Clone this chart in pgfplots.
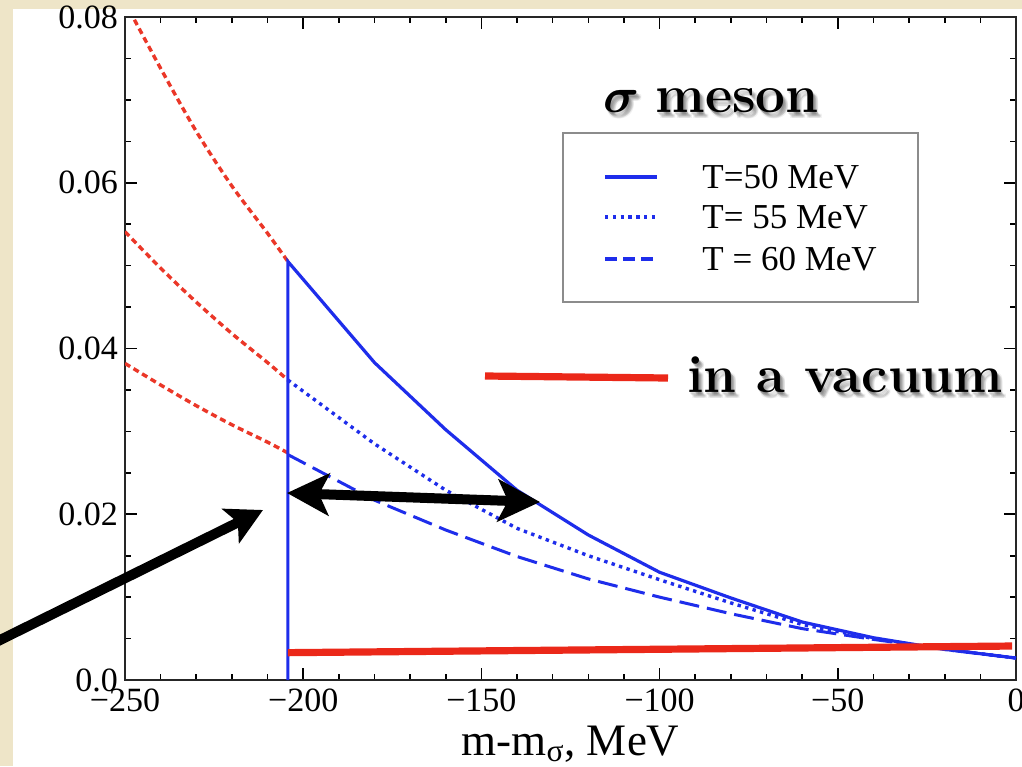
\documentclass[border=0pt]{standalone}
\usepackage{fontspec}
\usepackage{bm}
\usepackage{pgfplots}
\pgfplotsset{compat=1.18}
\usetikzlibrary{arrows.meta}
\newfontfamily\tnr{Liberation Serif}
\definecolor{bg}{RGB}{238,229,200}
\definecolor{pblue}{RGB}{30,45,235}
\definecolor{pred}{RGB}{235,40,25}
\definecolor{dred}{RGB}{235,55,40}
\newcommand{\shadowtext}[3]{%
  \foreach \dx/\dy/\op in {1/2/0.10,2/3/0.10,3/4/0.09,4/5/0.08,5/6/0.06,3/6/0.06,5/4/0.06}{%
    \node[anchor=base west, inner sep=0pt, text=black, opacity=\op] at (#1+\dx,#2+\dy) {#3};}%
  \node[anchor=base west, inner sep=0pt] at (#1,#2) {#3};}
\begin{document}
\begin{tikzpicture}[x=0.5pt,y=-0.5pt]
\useasboundingbox (0,0) rectangle (1022,766);
\fill[bg] (0,0) rectangle (1022,766);
\fill[white] (13,9) rectangle (1022,766);
\begin{axis}[
  at={(62.5pt,-340pt)}, anchor=south west,
  scale only axis, width=445.5pt, height=331.5pt,
  xmin=-250, xmax=0, ymin=0, ymax=0.08,
  scaled ticks=false,
  xtick={-250,-200,-150,-100,-50,0},
  xticklabels={−250,−200,−150,−100,−50,0},
  ytick={0,0.02,0.04,0.06,0.08},
  yticklabels={0.0,0.02,0.04,0.06,0.08},
  minor x tick num=4, minor y tick num=3,
  tick align=inside,
  major tick length=6pt, minor tick length=3pt,
  axis line style={black!85, line width=0.8pt},
  every tick/.style={black, line width=0.8pt},
  tick label style={font=\tnr\fontsize{17}{18}\selectfont},
  xticklabel style={yshift=-1pt},
  xlabel={m-m\textsubscript{σ}, MeV},
  xlabel style={font=\tnr\fontsize{22.5}{24}\selectfont, at={(axis description cs:0.5,0)}, anchor=base, yshift=-37.5pt},
  clip=true,
]
% red extrapolations
\addplot[dred, line width=1.7pt, dash pattern=on 3pt off 2pt, smooth] coordinates {
(-250,0.0818) (-240,0.0738) (-230,0.0662) (-220,0.0596) (-210,0.0539) (-204.3,0.0505)};
\addplot[dred, line width=1.7pt, dash pattern=on 3pt off 2pt, smooth] coordinates {
(-250,0.0541) (-240,0.0497) (-230,0.0456) (-220,0.0418) (-210,0.0383) (-204.3,0.0362)};
\addplot[dred, line width=1.7pt, dash pattern=on 3pt off 2pt, smooth] coordinates {
(-250,0.0382) (-240,0.0356) (-230,0.0331) (-220,0.0308) (-210,0.0287) (-204.3,0.0274)};
% T = 60
\addplot[pblue, line width=1.5pt, dash pattern=on 10pt off 4pt] coordinates {
(-204.3,0.0272) (-180,0.0217) (-160,0.0181) (-140,0.0149) (-120,0.0122) (-100,0.0100)
(-80,0.0080) (-60,0.0062) (-40,0.0049) (-20,0.0037) (0,0.00265)};
% T = 55
\addplot[pblue, line width=1.7pt, dash pattern=on 1.7pt off 2.2pt] coordinates {
(-204.3,0.0362) (-180,0.0285) (-160,0.0229) (-140,0.0183) (-120,0.0150) (-100,0.0121)
(-80,0.0093) (-60,0.0067) (-40,0.0050) (-20,0.0037) (0,0.00265)};
% T = 50
\addplot[pblue, line width=1.6pt] coordinates {
(-204.3,0) (-204.3,0.0505) (-180,0.0383) (-160,0.0302) (-140,0.0229) (-120,0.0175)
(-100,0.0130) (-80,0.0099) (-60,0.0070) (-40,0.0051) (-20,0.0037) (0,0.00265)};
% vacuum line
\addplot[pred, line width=3.6pt] coordinates {(-204.3,0.0033) (-1.1,0.0041)};
\end{axis}
% legend
\draw[black!45, line width=0.8pt] (563,133) rectangle (918,302);
\draw[pblue, line width=1.6pt] (605,177) -- (657,177);
\draw[pblue, line width=1.7pt, dash pattern=on 1.7pt off 2.2pt] (605,217) -- (657,217);
\draw[pblue, line width=1.6pt, dash pattern=on 6pt off 3pt] (605,259) -- (657,259);
\node[anchor=west, inner sep=0pt, font=\tnr\fontsize{17.5}{18}\selectfont] at (702,177) {T=50 MeV};
\node[anchor=west, inner sep=0pt, font=\tnr\fontsize{17.5}{18}\selectfont] at (702,217) {T= 55 MeV};
\node[anchor=west, inner sep=0pt, font=\tnr\fontsize{17.5}{18}\selectfont] at (702,259) {T = 60 MeV};
% annotations
\shadowtext{603}{112}{\fontsize{26.5}{30}\selectfont$\bm{\sigma}$\ \textbf{meson}}
\draw[pred, line width=3.6pt] (485,376) -- (668,378);
\shadowtext{687}{392}{\fontsize{26.3}{30}\selectfont\textbf{in a vacuum}}
% arrows
\draw[black, line width=5pt, {Stealth[length=21pt,width=21pt,inset=5pt]}-{Stealth[length=21pt,width=21pt,inset=5pt]}] (287,493) -- (540,502);
\draw[black, line width=5pt, -{Stealth[length=18pt,width=19pt,inset=4pt]}] (-10,645) -- (263,510);
\end{tikzpicture}
\end{document}
